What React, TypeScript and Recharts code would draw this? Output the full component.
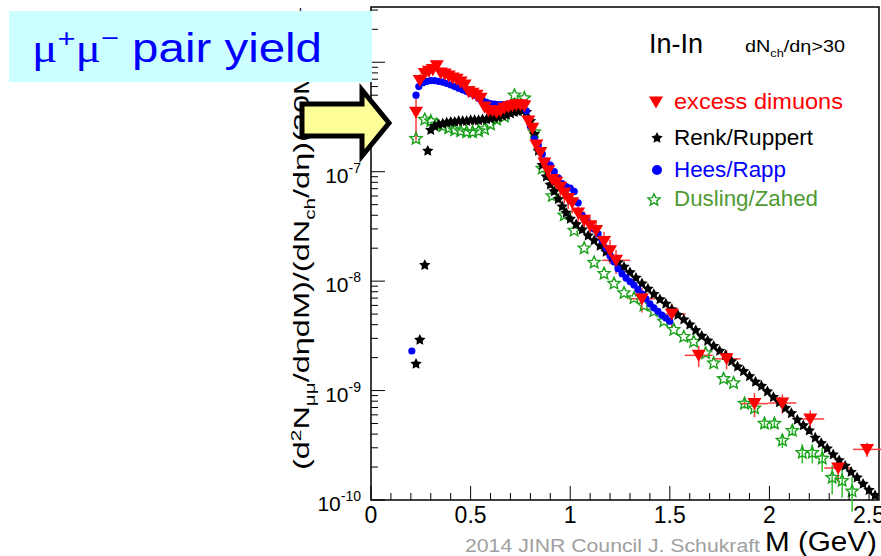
import React from "react";
import {
  ScatterChart,
  Scatter,
  XAxis,
  YAxis,
  ErrorBar,
  ReferenceArea,
} from "recharts";

const FONT = "'Liberation Sans', Arial, sans-serif";

// x axis: M (GeV)
const xTicks = [
  0, 0.1, 0.2, 0.3, 0.4, 0.5, 0.6, 0.7, 0.8, 0.9, 1, 1.1, 1.2, 1.3, 1.4, 1.5,
  1.6, 1.7, 1.8, 1.9, 2, 2.1, 2.2, 2.3, 2.4, 2.5,
];
const xTickLabels = ["0", "0.5", "1", "1.5", "2", "2.5"];

// y axis: log decades
const yDecades = [1e-10, 1e-9, 1e-8, 1e-7, 1e-6];
const yDecadeLabels = ["-10", "-9", "-8", "-7", "-6"];
const yMinorSteps = [2, 3, 4, 5, 6, 7, 8, 9];

// excess dimuons (data)
const excessMass = [
  0.226, 0.245, 0.27, 0.29, 0.31, 0.33, 0.35, 0.37, 0.39, 0.41, 0.43, 0.45,
  0.47, 0.49, 0.51, 0.53, 0.55, 0.57, 0.59, 0.61, 0.63, 0.65, 0.67, 0.69, 0.71,
  0.73, 0.75, 0.77, 0.79, 0.81, 0.83, 0.85, 0.87, 0.89, 0.91, 0.93, 0.95, 0.97,
  0.99, 1.01, 1.04, 1.07, 1.1, 1.13, 1.17, 1.2, 1.23, 1.36, 1.51, 1.645, 1.785,
  1.925, 2.065, 2.205, 2.345, 2.49,
];
const excessYield = [
  3.5e-7, 6.8e-7, 7.9e-7, 8.3e-7, 8.6e-7, 9.3e-7, 8.0e-7, 7.8e-7, 7.5e-7,
  7.2e-7, 7.0e-7, 6.6e-7, 6.2e-7, 5.4e-7, 5.2e-7, 5.0e-7, 4.7e-7, 3.9e-7,
  3.6e-7, 3.6e-7, 3.5e-7, 3.6e-7, 3.8e-7, 3.9e-7, 4.0e-7, 4.1e-7, 4.1e-7,
  4.0e-7, 2.9e-7, 2.5e-7, 1.75e-7, 1.5e-7, 1.2e-7, 1.02e-7, 8.5e-8, 8.0e-8,
  7.2e-8, 6.4e-8, 5.7e-8, 5.2e-8, 4.2e-8, 3.6e-8, 3.2e-8, 2.9e-8, 2.3e-8,
  1.9e-8, 1.55e-8, 6.9e-9, 5.0e-9, 2.1e-9, 1.95e-9, 7.6e-10, 7.7e-10, 5.5e-10,
  1.96e-10, 2.9e-10,
];
// relative vertical errors
const excessRelErr = [
  0.45, 0.15, 0.12, 0.12, 0.12, 0.12, 0.12, 0.12, 0.12, 0.12, 0.12, 0.12, 0.12,
  0.12, 0.12, 0.12, 0.12, 0.12, 0.12, 0.12, 0.12, 0.12, 0.12, 0.12, 0.12, 0.12,
  0.12, 0.12, 0.15, 0.15, 0.15, 0.15, 0.18, 0.18, 0.18, 0.2, 0.2, 0.2, 0.2,
  0.2, 0.2, 0.2, 0.22, 0.22, 0.22, 0.25, 0.25, 0.25, 0.25, 0.22, 0.2, 0.25,
  0.2, 0.2, 0.26, 0.15,
];
const excessMassErr = [
  0, 0, 0, 0, 0, 0, 0, 0, 0, 0, 0, 0, 0, 0, 0, 0, 0, 0, 0, 0, 0, 0, 0, 0, 0, 0,
  0, 0, 0, 0, 0, 0, 0, 0, 0, 0, 0, 0, 0, 0, 0, 0, 0, 0, 0, 0, 0.07, 0.065, 0.07,
  0.07, 0.07, 0.07, 0.07, 0.07, 0.07, 0.07,
];

// Renk/Ruppert
const renkMass = [
  0.226, 0.245, 0.27, 0.285, 0.3, 0.32, 0.34, 0.36, 0.38, 0.4, 0.42, 0.44, 0.46,
  0.48, 0.5, 0.52, 0.54, 0.56, 0.58, 0.6, 0.62, 0.64, 0.66, 0.68, 0.7, 0.72,
  0.74, 0.76, 0.78, 0.8, 0.82, 0.84, 0.86, 0.88, 0.9, 0.92, 0.94, 0.96, 0.98,
  1.0, 1.03, 1.06, 1.09, 1.12, 1.15, 1.18, 1.21, 1.24, 1.27, 1.3, 1.33, 1.36,
  1.39, 1.42, 1.45, 1.48, 1.51, 1.54, 1.57, 1.6, 1.63, 1.66, 1.69, 1.72, 1.75,
  1.78, 1.81, 1.84, 1.87, 1.9, 1.93, 1.96, 1.99, 2.02, 2.05, 2.08, 2.11, 2.14,
  2.17, 2.2, 2.23, 2.26, 2.29, 2.32, 2.35, 2.38, 2.41, 2.44, 2.47, 2.5, 2.53,
];
const renkYield = [
  1.75e-9, 2.9e-9, 1.4e-8, 1.55e-7, 2.4e-7, 2.6e-7, 2.7e-7, 2.75e-7, 2.8e-7,
  2.85e-7, 2.85e-7, 2.9e-7, 2.9e-7, 2.9e-7, 2.95e-7, 2.95e-7, 2.95e-7, 3.0e-7,
  3.0e-7, 3.05e-7, 3.1e-7, 3.15e-7, 3.25e-7, 3.3e-7, 3.4e-7, 3.5e-7, 3.55e-7,
  3.6e-7, 3.5e-7, 2.9e-7, 2.2e-7, 1.55e-7, 1.15e-7, 9.0e-8, 7.6e-8, 6.6e-8,
  5.6e-8, 4.8e-8, 4.2e-8, 3.7e-8, 3.3e-8, 2.95e-8, 2.6e-8, 2.35e-8, 2.1e-8,
  1.85e-8, 1.65e-8, 1.48e-8, 1.35e-8, 1.2e-8, 1.07e-8, 9.5e-9, 8.5e-9, 7.6e-9,
  6.8e-9, 6.2e-9, 5.5e-9, 4.9e-9, 4.45e-9, 4.0e-9, 3.55e-9, 3.15e-9, 2.85e-9,
  2.55e-9, 2.3e-9, 2.1e-9, 1.85e-9, 1.65e-9, 1.5e-9, 1.35e-9, 1.2e-9, 1.1e-9,
  9.8e-10, 8.7e-10, 7.8e-10, 6.9e-10, 6.2e-10, 5.4e-10, 4.8e-10, 4.3e-10,
  3.7e-10, 3.3e-10, 2.95e-10, 2.6e-10, 2.3e-10, 2.05e-10, 1.8e-10, 1.6e-10,
  1.4e-10, 1.23e-10, 1.1e-10,
];

// Hees/Rapp
const heesMass = [
  0.205, 0.226, 0.24, 0.26, 0.28, 0.3, 0.32, 0.34, 0.36, 0.38, 0.4, 0.42, 0.44,
  0.46, 0.48, 0.5, 0.52, 0.54, 0.56, 0.58, 0.6, 0.62, 0.64, 0.66, 0.68, 0.7,
  0.72, 0.74, 0.76, 0.78, 0.8, 0.82, 0.84, 0.86, 0.88, 0.9, 0.92, 0.94, 0.96,
  0.98, 1.0, 1.02, 1.04, 1.06, 1.08, 1.1, 1.12, 1.14, 1.16, 1.18, 1.2, 1.22,
  1.24, 1.26, 1.28, 1.3, 1.32, 1.34, 1.36, 1.38, 1.4, 1.42, 1.44, 1.46, 1.48,
  1.5,
];
const heesYield = [
  2.3e-9, 5.0e-7, 6.0e-7, 6.5e-7, 6.7e-7, 6.8e-7, 6.8e-7, 6.7e-7, 6.6e-7,
  6.4e-7, 6.2e-7, 6.0e-7, 5.8e-7, 5.6e-7, 5.4e-7, 5.2e-7, 5.0e-7, 4.7e-7,
  4.5e-7, 4.3e-7, 4.2e-7, 4.15e-7, 4.1e-7, 4.1e-7, 4.1e-7, 4.15e-7, 4.2e-7,
  4.2e-7, 4.1e-7, 3.6e-7, 2.6e-7, 2.0e-7, 1.75e-7, 1.45e-7, 1.25e-7, 1.15e-7,
  1.0e-7, 8.8e-8, 7.8e-8, 7.3e-8, 7.1e-8, 6.6e-8, 5.2e-8, 4.0e-8, 3.6e-8,
  3.3e-8, 3.0e-8, 2.7e-8, 2.35e-8, 2.0e-8, 1.7e-8, 1.5e-8, 1.3e-8, 1.17e-8,
  1.07e-8, 9.9e-9, 9.2e-9, 8.4e-9, 7.6e-9, 6.9e-9, 6.2e-9, 5.7e-9, 5.3e-9,
  4.9e-9, 4.6e-9, 4.3e-9,
];

// Dusling/Zahed
const duslingMass = [
  0.226, 0.27, 0.3, 0.33, 0.36, 0.39, 0.42, 0.45, 0.48, 0.51, 0.54, 0.57, 0.6,
  0.63, 0.67, 0.72, 0.77, 0.82, 0.86, 0.91, 0.97, 1.02, 1.07, 1.12, 1.17, 1.22,
  1.27, 1.32, 1.37, 1.42, 1.47, 1.52, 1.57, 1.62, 1.68, 1.72, 1.77, 1.82, 1.875,
  1.925, 1.975, 2.025, 2.065, 2.115, 2.165, 2.215, 2.265, 2.315, 2.365, 2.415,
];
const duslingYield = [
  2.0e-7, 3.0e-7, 2.9e-7, 2.7e-7, 2.6e-7, 2.5e-7, 2.4e-7, 2.35e-7, 2.3e-7,
  2.3e-7, 2.35e-7, 2.45e-7, 2.7e-7, 3.0e-7, 3.2e-7, 5.0e-7, 4.7e-7, 2.3e-7,
  1.07e-7, 6.0e-8, 4.0e-8, 2.9e-8, 2.0e-8, 1.48e-8, 1.17e-8, 9.5e-9, 7.8e-9,
  7.0e-9, 6.0e-9, 5.3e-9, 4.3e-9, 3.6e-9, 3.1e-9, 2.8e-9, 2.2e-9, 1.78e-9,
  1.28e-9, 1.17e-9, 7.6e-10, 6.9e-10, 5.0e-10, 5.0e-10, 3.5e-10, 4.3e-10,
  2.7e-10, 2.7e-10, 2.4e-10, 1.6e-10, 1.5e-10, 1.2e-10,
];
const duslingRelErr = [
  0, 0, 0, 0, 0, 0, 0, 0, 0, 0, 0, 0, 0, 0, 0, 0, 0, 0, 0, 0, 0, 0, 0, 0, 0, 0,
  0, 0, 0, 0, 0, 0, 0, 0, 0, 0, 0, 0, 0.1, 0.1, 0.1, 0.1, 0.15, 0.1, 0.2, 0.2,
  0.25, 0.3, 0.3, 0.35,
];

const excessData = excessMass.map((m, i) => ({
  m,
  v: excessYield[i],
  ey: excessYield[i] * excessRelErr[i],
  ex: excessMassErr[i],
}));
const renkData = renkMass.map((m, i) => ({ m, v: renkYield[i] }));
const heesData = heesMass.map((m, i) => ({ m, v: heesYield[i] }));
const duslingData = duslingMass.map((m, i) => ({
  m,
  v: duslingYield[i],
  ey: duslingYield[i] * duslingRelErr[i],
}));

const yTicks: number[] = [];
yDecades.forEach((d) => {
  yTicks.push(d);
  yMinorSteps.forEach((s) => {
    if (d * s <= 3.2e-6) yTicks.push(d * s);
  });
});

const RED = "#ff0000";
const BLUE = "#0000ff";
const GREEN = "#19a019";
const LEGEND_GREEN = "#4f9a33";

function starPoints(cx: number, cy: number, ro: number, ri: number) {
  const pts: string[] = [];
  for (let i = 0; i < 10; i++) {
    const a = -Math.PI / 2 + (i * Math.PI) / 5;
    const r = i % 2 === 0 ? ro : ri;
    pts.push(`${cx + r * Math.cos(a)},${cy + r * Math.sin(a)}`);
  }
  return pts.join(" ");
}

const TriangleDown = (p: any) => (
  <polygon
    points={`${p.cx - 7},${p.cy - 5.5} ${p.cx + 7},${p.cy - 5.5} ${p.cx},${p.cy + 6.5}`}
    fill={RED}
  />
);
const FilledStar = (p: any) => (
  <polygon points={starPoints(p.cx, p.cy, 6, 3)} fill="#000" />
);
const OpenStar = (p: any) => (
  <polygon
    points={starPoints(p.cx, p.cy, 6.3, 2.9)}
    fill="none"
    stroke={GREEN}
    strokeWidth={1.4}
  />
);
const Dot = (p: any) => <circle cx={p.cx} cy={p.cy} r={3.6} fill={BLUE} />;

const XTick = (props: any) => {
  const { x, y, payload } = props;
  const v = payload.value as number;
  const k = Math.round(v * 2);
  const major = Math.abs(v * 2 - k) < 1e-6;
  return (
    <g>
      <line x1={x} x2={x} y1={y} y2={y - (major ? 14 : 7)} stroke="#000" />
      {major && (
        <text
          x={x}
          y={y + 23}
          textAnchor="middle"
          fontSize={23}
          fontFamily={FONT}
          fill="#000"
        >
          {xTickLabels[k]}
        </text>
      )}
    </g>
  );
};

const YTick = (props: any) => {
  const { x, y, payload } = props;
  const v = payload.value as number;
  const idx = yDecades.findIndex((d) => Math.abs(d - v) / d < 1e-6);
  const major = idx >= 0;
  return (
    <g>
      <line x1={x} x2={x + (major ? 14 : 7)} y1={y} y2={y} stroke="#000" />
      {major && (
        <text
          x={x - 10}
          y={y + 11}
          textAnchor="end"
          fontSize={21}
          fontFamily={FONT}
          fill="#000"
        >
          10
          <tspan dy={-10} fontSize={14}>
            {yDecadeLabels[idx]}
          </tspan>
        </text>
      )}
    </g>
  );
};

export default function App() {
  return (
    <div
      style={{
        position: "fixed",
        left: 0,
        top: 0,
        width: 881,
        height: 556,
        background: "#fff",
        overflow: "hidden",
      }}
    >
      <ScatterChart
        width={881}
        height={556}
        margin={{ top: 7, right: 2, left: 370, bottom: 55 }}
      >
        <XAxis
          type="number"
          dataKey="m"
          domain={[0, 2.55]}
          ticks={xTicks}
          interval={0}
          tickSize={0}
          tickMargin={0}
          axisLine={false}
          tickLine={false}
          tick={(p: any) => <XTick {...p} />}
          height={1}
          allowDataOverflow
        />
        <YAxis
          type="number"
          dataKey="v"
          scale="log"
          domain={[1e-10, 3.2e-6]}
          ticks={yTicks}
          interval={0}
          tickSize={0}
          tickMargin={0}
          axisLine={false}
          tickLine={false}
          tick={(p: any) => <YTick {...p} />}
          width={1}
          allowDataOverflow
        />
        <ReferenceArea
          x1={0}
          x2={2.55}
          y1={1e-10}
          y2={3.2e-6}
          fill="none"
          fillOpacity={0}
          stroke="#000"
          strokeWidth={1.5}
          ifOverflow="visible"
        />
        <Scatter data={duslingData} shape={OpenStar} isAnimationActive={false}>
          <ErrorBar dataKey="ey" direction="y" width={0} stroke="#33c033" />
        </Scatter>
        <Scatter data={renkData} shape={FilledStar} isAnimationActive={false} />
        <Scatter data={heesData} shape={Dot} isAnimationActive={false} />
        <Scatter data={excessData} shape={TriangleDown} isAnimationActive={false}>
          <ErrorBar dataKey="ey" direction="y" width={0} stroke="#ff3b3b" strokeWidth={1.5} />
          <ErrorBar dataKey="ex" direction="x" width={0} stroke="#ff3b3b" strokeWidth={1.5} />
        </Scatter>
      </ScatterChart>

      <svg
        width={881}
        height={556}
        style={{ position: "absolute", left: 0, top: 0, pointerEvents: "none" }}
        fontFamily={FONT}
      >
        {/* y axis title */}
        <text
          transform="translate(309,470) rotate(-90)"
          fontSize={22}
          fill="#000"
          textLength={375}
          lengthAdjust="spacingAndGlyphs"
        >
          (d
          <tspan dy={-8} fontSize={14}>2</tspan>
          <tspan dy={8}>N</tspan>
          <tspan dy={6} fontSize={14}>μμ</tspan>
          <tspan dy={-6}>/dηdM)/(dN</tspan>
          <tspan dy={6} fontSize={14}>ch</tspan>
          <tspan dy={-6}>/dη)(20</tspan>
        </text>
        <text
          transform="translate(309,95) rotate(-90)"
          fontSize={22}
          fill="#000"
          textLength={88}
          lengthAdjust="spacingAndGlyphs"
        >
          {" MeV)"}
          <tspan dy={-8} fontSize={14}>-1</tspan>
        </text>

        {/* title box */}
        <rect x={9} y={11} width={363} height={71} fill="#ccffff" />
        <text
          x={32}
          y={62}
          fontSize={40}
          fill={BLUE}
          textLength={290}
          lengthAdjust="spacingAndGlyphs"
        >
          <tspan fontFamily="'Liberation Serif', serif">μ</tspan>
          <tspan dy={-15} fontSize={26}>+</tspan>
          <tspan dy={15} fontFamily="'Liberation Serif', serif">μ</tspan>
          <tspan dy={-15} fontSize={26}>−</tspan>
          <tspan dy={15}> pair yield</tspan>
        </text>

        {/* arrow */}
        <polygon
          points="302,104 362,104 362,90 389,123 362,156 362,136 302,136"
          fill="#ffff99"
          stroke="#000"
          strokeWidth={5}
          strokeLinejoin="miter"
        />

        {/* legend */}
        <text x={649} y={53} fontSize={27} fill="#000">
          In-In
        </text>
        <text
          x={745}
          y={52}
          fontSize={17}
          fill="#000"
          textLength={100}
          lengthAdjust="spacingAndGlyphs"
        >
          dN
          <tspan dy={5} fontSize={11}>ch</tspan>
          <tspan dy={-5}>/dη&gt;30</tspan>
        </text>

        <TriangleDown cx={656} cy={102} />
        <text x={674} y={109} fontSize={22} fill={RED} textLength={169} lengthAdjust="spacingAndGlyphs">
          excess dimuons
        </text>
        <FilledStar cx={657} cy={138} />
        <text x={674} y={145} fontSize={22} fill="#000" textLength={139} lengthAdjust="spacingAndGlyphs">
          Renk/Ruppert
        </text>
        <circle cx={657} cy={170} r={5} fill={BLUE} />
        <text x={674} y={177} fontSize={22} fill={BLUE} textLength={112} lengthAdjust="spacingAndGlyphs">
          Hees/Rapp
        </text>
        <OpenStar cx={654} cy={200} />
        <text x={674} y={206} fontSize={22} fill={LEGEND_GREEN} textLength={144} lengthAdjust="spacingAndGlyphs">
          Dusling/Zahed
        </text>

        {/* footer */}
        <text
          x={465}
          y={552}
          fontSize={18}
          fill="#a0a0a0"
          textLength={295}
          lengthAdjust="spacingAndGlyphs"
        >
          2014 JINR Council J. Schukraft
        </text>
        <text
          x={765}
          y={551}
          fontSize={27}
          fill="#000"
          textLength={112}
          lengthAdjust="spacingAndGlyphs"
        >
          M (GeV)
        </text>
      </svg>
    </div>
  );
}
